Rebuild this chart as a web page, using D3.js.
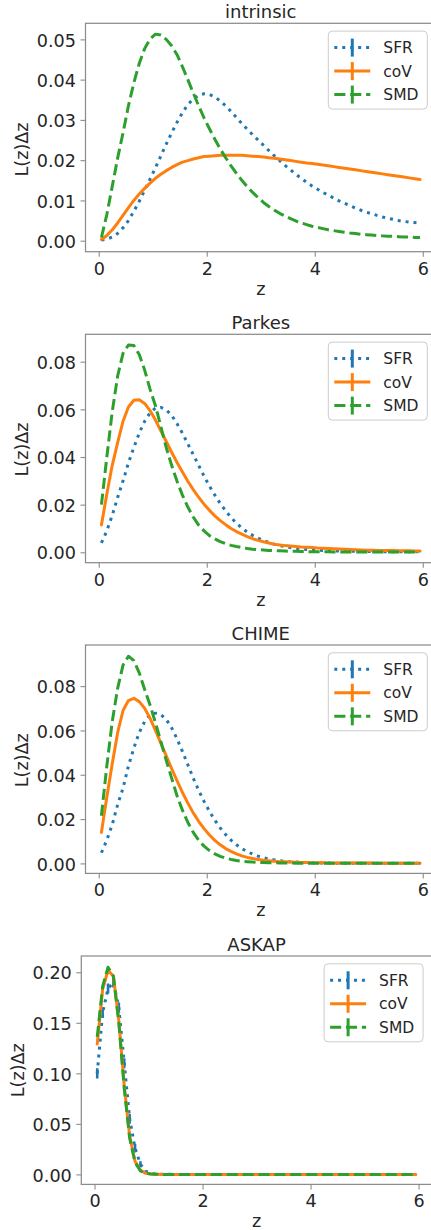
<!DOCTYPE html>
<html><head><meta charset="utf-8">
<script src="https://cdn.jsdelivr.net/npm/d3@7"></script>
<style>
body{margin:0;background:#fff}
svg{display:block}
text{font-family:"DejaVu Sans",sans-serif;fill:#262626}
</style>
</head><body>
<script>
// ---------------- DATA ----------------
const z = [0.05,0.15,0.25,0.35,0.45,0.55,0.65,0.75,0.85,0.95,
  1.05,1.15,1.25,1.35,1.45,1.55,1.65,1.75,1.85,1.95,
  2.05,2.15,2.25,2.35,2.45,2.55,2.65,2.75,2.85,2.95,
  3.05,3.15,3.25,3.35,3.45,3.55,3.65,3.75,3.85,3.95,
  4.05,4.15,4.25,4.35,4.45,4.55,4.65,4.75,4.85,4.95,
  5.05,5.15,5.25,5.35,5.45,5.55,5.65,5.75,5.85,5.95];

const seriesNames = ["SFR","coV","SMD"];
const panelTitles = ["intrinsic","Parkes","CHIME","ASKAP"];

const intrinsicSFR = [0.0002,0.0004,0.0009,0.0018,0.0032,0.0050,0.0073,0.0098,0.0125,0.0153,
  0.0181,0.0210,0.0240,0.0268,0.0294,0.0318,0.0338,0.0352,0.0361,0.0365,
  0.0363,0.0357,0.0347,0.0335,0.0321,0.0306,0.0291,0.0277,0.0263,0.0250,
  0.0237,0.0224,0.0211,0.0199,0.0187,0.0176,0.0165,0.0155,0.0145,0.0136,
  0.0128,0.0120,0.0113,0.0106,0.0099,0.0093,0.0087,0.0081,0.0076,0.0071,
  0.0067,0.0063,0.0059,0.0056,0.0053,0.0050,0.0048,0.0046,0.0045,0.0044];
const intrinsicCoV = [0.0003,0.0013,0.0027,0.0044,0.0063,0.0082,0.0100,0.0116,0.0130,0.0143,
  0.0155,0.0165,0.0174,0.0182,0.0189,0.0195,0.0199,0.0203,0.0206,0.0209,
  0.0210,0.0211,0.0212,0.0212,0.0212,0.0212,0.0212,0.0211,0.0210,0.0209,
  0.0208,0.0206,0.0205,0.0203,0.0201,0.0199,0.0197,0.0195,0.0193,0.0192,
  0.0190,0.0188,0.0186,0.0184,0.0182,0.0180,0.0178,0.0176,0.0174,0.0172,
  0.0170,0.0168,0.0166,0.0164,0.0162,0.0160,0.0158,0.0156,0.0154,0.0152];
const intrinsicSMD = [0.0008,0.0065,0.0135,0.0205,0.0268,0.0335,0.0392,0.0440,0.0477,0.0501,
  0.0513,0.0511,0.0500,0.0484,0.0462,0.0432,0.0400,0.0367,0.0335,0.0305,
  0.0278,0.0252,0.0228,0.0206,0.0186,0.0167,0.0150,0.0134,0.0120,0.0107,
  0.0095,0.0085,0.0076,0.0068,0.0061,0.0055,0.0049,0.0044,0.0040,0.0036,
  0.0033,0.0030,0.0027,0.0025,0.0023,0.0021,0.0019,0.0018,0.0016,0.0015,
  0.0014,0.0013,0.0012,0.0011,0.0011,0.0010,0.0009,0.0009,0.0008,0.0008];

const parkesSFR = [0.0040,0.0090,0.0155,0.0230,0.0300,0.0375,0.0440,0.0500,0.0550,0.0585,
  0.0605,0.0608,0.0598,0.0575,0.0540,0.0500,0.0455,0.0410,0.0365,0.0320,
  0.0278,0.0240,0.0205,0.0174,0.0146,0.0122,0.0102,0.0085,0.0071,0.0059,
  0.0049,0.0041,0.0034,0.0028,0.0024,0.0020,0.0017,0.0014,0.0012,0.0011,
  0.0009,0.0008,0.0007,0.0006,0.0005,0.0005,0.0004,0.0004,0.0004,0.0003,
  0.0003,0.0003,0.0003,0.0002,0.0002,0.0002,0.0002,0.0002,0.0002,0.0002];
const parkesCoV = [0.0115,0.0245,0.0365,0.0460,0.0550,0.0610,0.0638,0.0640,0.0625,0.0595,
  0.0555,0.0510,0.0465,0.0420,0.0377,0.0337,0.0298,0.0263,0.0231,0.0202,
  0.0176,0.0153,0.0133,0.0116,0.0100,0.0087,0.0076,0.0066,0.0057,0.0050,
  0.0044,0.0039,0.0034,0.0031,0.0028,0.0026,0.0024,0.0022,0.0021,0.0020,
  0.0018,0.0017,0.0016,0.0015,0.0014,0.0013,0.0012,0.0011,0.0010,0.0009,
  0.0009,0.0008,0.0008,0.0007,0.0007,0.0006,0.0006,0.0006,0.0005,0.0005];
const parkesSMD = [0.0200,0.0400,0.0590,0.0740,0.0835,0.0870,0.0868,0.0830,0.0765,0.0685,
  0.0615,0.0528,0.0440,0.0365,0.0298,0.0240,0.0190,0.0148,0.0114,0.0090,
  0.0070,0.0056,0.0045,0.0036,0.0029,0.0024,0.0020,0.0016,0.0013,0.0011,
  0.0010,0.0008,0.0007,0.0006,0.0005,0.0004,0.0004,0.0003,0.0003,0.0002,
  0.0002,0.0002,0.0002,0.0001,0.0001,0.0001,0.0001,0.0001,0.0001,0.0001,
  0.0001,0.0001,0.0001,0.0001,0.0001,0.0001,0.0001,0.0001,0.0001,0.0001];

const chimeSFR = [0.0048,0.0105,0.0175,0.0265,0.0340,0.0440,0.0520,0.0590,0.0640,0.0670,
  0.0678,0.0672,0.0650,0.0612,0.0562,0.0505,0.0445,0.0385,0.0330,0.0280,
  0.0235,0.0195,0.0160,0.0130,0.0105,0.0084,0.0067,0.0053,0.0042,0.0033,
  0.0026,0.0020,0.0016,0.0012,0.0009,0.0007,0.0006,0.0005,0.0004,0.0003,
  0.0002,0.0002,0.0002,0.0001,0.0001,0.0001,0.0001,0.0001,0.0001,0.0001,
  0.0001,0.0001,0.0001,0.0001,0.0001,0.0001,0.0001,0.0001,0.0001,0.0001];
const chimeCoV = [0.0140,0.0300,0.0450,0.0590,0.0690,0.0735,0.0745,0.0730,0.0700,0.0655,
  0.0600,0.0543,0.0485,0.0428,0.0373,0.0320,0.0272,0.0228,0.0190,0.0157,
  0.0128,0.0104,0.0084,0.0067,0.0054,0.0043,0.0034,0.0027,0.0022,0.0018,
  0.0014,0.0012,0.0010,0.0008,0.0007,0.0006,0.0005,0.0004,0.0004,0.0003,
  0.0003,0.0003,0.0002,0.0002,0.0002,0.0002,0.0002,0.0002,0.0002,0.0002,
  0.0002,0.0001,0.0001,0.0001,0.0001,0.0001,0.0001,0.0001,0.0001,0.0001];
const chimeSMD = [0.0215,0.0440,0.0640,0.0790,0.0895,0.0935,0.0915,0.0860,0.0785,0.0715,
  0.0635,0.0550,0.0465,0.0385,0.0305,0.0240,0.0185,0.0140,0.0105,0.0078,
  0.0058,0.0043,0.0032,0.0024,0.0018,0.0013,0.0010,0.0008,0.0006,0.0005,
  0.0004,0.0003,0.0003,0.0002,0.0002,0.0002,0.0001,0.0001,0.0001,0.0001,
  0.0001,0.0001,0.0001,0.0001,0.0001,0.0001,0.0001,0.0001,0.0001,0.0001,
  0.0001,0.0001,0.0001,0.0001,0.0001,0.0001,0.0001,0.0001,0.0001,0.0001];

const askapSFR = [0.100,0.160,0.184,0.190,0.165,0.110,0.055,0.026,0.010,0.003,
  0.001,0.0003,0.0001,0.0001,0,0,0,0,0,0,
  0,0,0,0,0,0,0,0,0,0, 0,0,0,0,0,0,0,0,0,0,
  0,0,0,0,0,0,0,0,0,0, 0,0,0,0,0,0,0,0,0,0];
const askapSFRErr = [0.005,0.005,0.005,0.005,0.005,0.005,0.005,0.004,0.003,0.001,
  0,0,0,0,0,0,0,0,0,0, 0,0,0,0,0,0,0,0,0,0, 0,0,0,0,0,0,0,0,0,0,
  0,0,0,0,0,0,0,0,0,0, 0,0,0,0,0,0,0,0,0,0];
const askapCoV = [0.129,0.183,0.202,0.196,0.152,0.088,0.038,0.013,0.004,0.001,
  0.0003,0.0001,0,0,0,0,0,0,0,0,
  0,0,0,0,0,0,0,0,0,0, 0,0,0,0,0,0,0,0,0,0,
  0,0,0,0,0,0,0,0,0,0, 0,0,0,0,0,0,0,0,0,0];
const askapSMD = [0.136,0.186,0.205,0.196,0.150,0.085,0.036,0.012,0.0035,0.001,
  0.0003,0.0001,0,0,0,0,0,0,0,0,
  0,0,0,0,0,0,0,0,0,0, 0,0,0,0,0,0,0,0,0,0,
  0,0,0,0,0,0,0,0,0,0, 0,0,0,0,0,0,0,0,0,0];

const xTicks = [0,2,4,6];
const yTicksIntrinsic = [0,0.01,0.02,0.03,0.04,0.05];
const yTicksParkes = [0,0.02,0.04,0.06,0.08];
const yTicksChime = [0,0.02,0.04,0.06,0.08];
const yTicksAskap = [0,0.05,0.10,0.15,0.20];

// ---------------- LAYOUT / STYLE ----------------
const colors = {SFR:"#1f77b4", coV:"#ff7f0e", SMD:"#2ca02c"};
const dashes = {SFR:"3,4.95", coV:null, SMD:"11.1,4.8"};
const spineColor = "#8c8c8c";
const LW = 3;
const W = 350.5, H = 228.4;
const xDomain = [-0.245, 6.245];

const panels = [
  {title:panelTitles[0], data:{SFR:intrinsicSFR, coV:intrinsicCoV, SMD:intrinsicSMD}, err:{},
   yDomain:[-0.00273,0.05399], yTicks:yTicksIntrinsic, left:85.5, top:23.3, ylabX:27.5, ylabDy:12},
  {title:panelTitles[1], data:{SFR:parkesSFR, coV:parkesCoV, SMD:parkesSMD}, err:{},
   yDomain:[-0.00437,0.0915], yTicks:yTicksParkes, left:85.5, top:334.3, ylabX:27.5, ylabDy:1},
  {title:panelTitles[2], data:{SFR:chimeSFR, coV:chimeCoV, SMD:chimeSMD}, err:{},
   yDomain:[-0.00451,0.09856], yTicks:yTicksChime, left:85.5, top:645, ylabX:27.5, ylabDy:1},
  {title:panelTitles[3], data:{SFR:askapSFR, coV:askapCoV, SMD:askapSMD}, err:{SFR:askapSFRErr},
   yDomain:[-0.0099,0.2161], yTicks:yTicksAskap, left:81.3, top:956, ylabX:23.5, ylabDy:0}
];

const svg = d3.select("body").append("svg").attr("width",431).attr("height",1230);
const defs = svg.append("defs");

panels.forEach((p, pi) => {
  const x = d3.scaleLinear().domain(xDomain).range([0, W]);
  const y = d3.scaleLinear().domain(p.yDomain).range([H, 0]);
  const g = svg.append("g").attr("transform", `translate(${p.left},${p.top})`);

  defs.append("clipPath").attr("id","clip"+pi)
    .append("rect").attr("x",0).attr("y",0).attr("width",W).attr("height",H);

  const plot = g.append("g").attr("clip-path", `url(#clip${pi})`);
  const line = d3.line().x((d,i)=>x(z[i])).y(d=>y(d));

  seriesNames.forEach(s => {
    const vals = p.data[s];
    const e = p.err[s];
    if (e) {
      plot.append("g").selectAll("line").data(vals).join("line")
        .filter((d,i)=>e[i]>0)
        .attr("x1",(d,i)=>x(z[i])).attr("x2",(d,i)=>x(z[i]))
        .attr("y1",(d,i)=>y(d-e[i])).attr("y2",(d,i)=>y(d+e[i]))
        .attr("stroke",colors[s]).attr("stroke-width",2.6);
    }
    plot.append("path").datum(vals)
      .attr("d", line)
      .attr("fill","none")
      .attr("stroke", colors[s])
      .attr("stroke-width", LW)
      .attr("stroke-linejoin","round")
      .attr("stroke-linecap", dashes[s] ? "butt" : "round")
      .attr("stroke-dasharray", dashes[s]);
  });

  // axes
  const xAxis = d3.axisBottom(x).tickValues(xTicks).tickFormat(d3.format("d"))
    .tickSize(5).tickSizeOuter(0).tickPadding(5.5);
  const gx = g.append("g").attr("transform",`translate(0,${H})`).call(xAxis);
  const yAxis = d3.axisLeft(y).tickValues(p.yTicks).tickFormat(d3.format(".2f"))
    .tickSize(5).tickSizeOuter(0).tickPadding(4.5);
  const gy = g.append("g").call(yAxis);
  [gx, gy].forEach(a => {
    a.select(".domain").remove();
    a.selectAll(".tick line").attr("stroke", spineColor).attr("stroke-width",1.1);
    a.selectAll(".tick text").attr("fill","#262626").style("font-size","17.6px")
      .style("font-family","DejaVu Sans, sans-serif");
  });
  gy.selectAll(".tick text").attr("dy","0.38em");

  // spines
  g.append("rect").attr("x",0).attr("y",0).attr("width",W).attr("height",H)
    .attr("fill","none").attr("stroke",spineColor).attr("stroke-width",1.25);

  // title
  g.append("text").attr("x", W/2).attr("y", -5.5).attr("text-anchor","middle")
    .style("font-size","18px").text(p.title);
  // x label
  g.append("text").attr("x", W/2).attr("y", H + 43).attr("text-anchor","middle")
    .style("font-size","17.6px").text("z");
  // y label
  svg.append("text")
    .attr("transform", `translate(${p.ylabX},${p.top + H/2 + p.ylabDy}) rotate(-90)`)
    .attr("text-anchor","middle").style("font-size","17.6px").text("L(z)Δz");

  // legend
  const bw = 99, bh = 78;
  const lg = g.append("g").attr("transform", `translate(${W - 8.7 - bw},${7.8})`);
  lg.append("rect").attr("width",bw).attr("height",bh).attr("rx",4).attr("ry",4)
    .attr("fill","white").attr("fill-opacity",0.8).attr("stroke","#cccccc").attr("stroke-width",1);
  seriesNames.forEach((s, i) => {
    const cy = 16.5 + i*23.5;
    lg.append("line").attr("x1",6).attr("x2",42).attr("y1",cy).attr("y2",cy)
      .attr("stroke",colors[s]).attr("stroke-width",LW)
      .attr("stroke-dasharray", dashes[s]);
    lg.append("line").attr("x1",24).attr("x2",24).attr("y1",cy-9).attr("y2",cy+9)
      .attr("stroke",colors[s]).attr("stroke-width",LW);
    lg.append("text").attr("x",55).attr("y",cy).attr("dy","0.36em")
      .style("font-size","15.5px").text(s);
  });
});
</script>
</body></html>
